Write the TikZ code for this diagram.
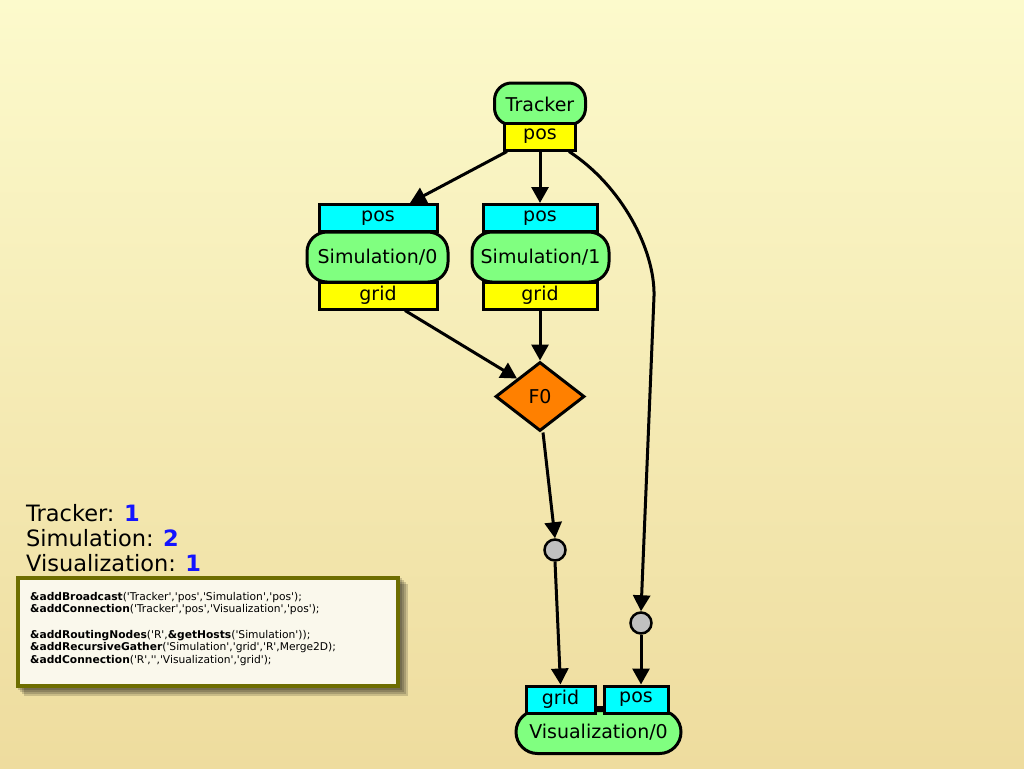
\documentclass[tikz,border=0pt]{standalone}
\usepackage{fontspec}
\setmainfont{DejaVu Sans}
\newfontfamily\codefont{DejaVu Sans}
\usetikzlibrary{arrows.meta,shapes.geometric,shadows}
\definecolor{bgtop}{RGB}{252,250,204}
\definecolor{bgbot}{RGB}{238,220,158}
\definecolor{pgreen}{RGB}{128,255,128}
\definecolor{pyellow}{RGB}{255,255,0}
\definecolor{pcyan}{RGB}{0,255,255}
\definecolor{porange}{RGB}{255,128,0}
\definecolor{pgrey}{RGB}{192,192,192}
\definecolor{olive}{RGB}{110,110,0}
\definecolor{codebg}{RGB}{250,248,236}
\definecolor{numblue}{RGB}{20,20,255}
\tikzset{
  lbl/.style={font=\fontsize{19}{22}\selectfont},
  proc/.style={draw=black,line width=3pt,fill=pgreen,lbl,inner sep=0pt},
  port/.style={draw=black,line width=3pt,lbl,inner sep=0pt,minimum height=27pt},
  inport/.style={port,fill=pcyan},
  outport/.style={port,fill=pyellow},
  rnode/.style={circle,draw=black,line width=2.5pt,fill=pgrey,minimum size=21pt,inner sep=0pt},
  conn/.style={line width=3pt,-{Triangle[length=16pt,width=17pt]}},
  legend/.style={anchor=west,font=\fontsize{22.5}{24}\selectfont,inner sep=0pt},
  shadowlayer/.style={fill=black,fill opacity=0.16},
}
\begin{document}
\begin{tikzpicture}[x=1pt,y=-1pt]
\useasboundingbox (0,0) rectangle (1024,768);
\shade[top color=bgtop,bottom color=bgbot] (0,0) rectangle (1024,768);

% Tracker
\node[proc,rounded corners=17pt,minimum width=91pt,minimum height=42pt] (tracker) at (540,104) {Tracker};
\node[outport,minimum width=71pt] (tpos) at (540,136.5) {pos};

% Simulation/0
\node[proc,rounded corners=20pt,minimum width=141pt,minimum height=50pt] (sim0) at (377.5,257) {Simulation/0};
\node[inport,minimum width=118pt] (s0pos) at (378,218) {pos};
\node[outport,minimum width=118pt] (s0grid) at (378,295.5) {grid};

% Simulation/1
\node[proc,rounded corners=20pt,minimum width=137pt,minimum height=50pt] (sim1) at (540.5,257) {Simulation/1};
\node[inport,minimum width=114pt] (s1pos) at (540,218) {pos};
\node[outport,minimum width=114pt] (s1grid) at (540,295.5) {grid};

% F0
\node[diamond,draw=black,line width=3pt,fill=porange,lbl,inner sep=0pt,minimum width=89pt,minimum height=69pt] (f0) at (540,396.5) {F0};

% routing nodes
\node[rnode] (rn1) at (555,550) {};
\node[rnode] (rn2) at (641,623) {};

% Visualization/0
\node[proc,rounded corners=21.5pt,minimum width=165pt,minimum height=43pt] (vis) at (598.5,732) {Visualization/0};
\node[inport,minimum width=69pt] (visgrid) at (560.5,699.5) {grid};
\node[inport,minimum width=64pt] (vispos) at (636,699.5) {pos};
\draw[line width=3pt] ([yshift=-8pt]visgrid.east) -- ([yshift=-8pt]vispos.west);

% connectors
\draw[conn] ([xshift=-33pt]tpos.south) -- ([xshift=32pt]s0pos.north);
\draw[conn] (tpos.south) -- (s1pos.north);
\draw[conn] ([xshift=29pt]tpos.south) .. controls (622,186) and (655,250) .. (654,296) -- (rn2.north);
\draw[conn] ([xshift=27pt]s0grid.south) -- (f0.north west);
\draw[conn] (s1grid.south) -- (f0.north);
\draw[conn] ([xshift=3pt]f0.south) -- (rn1.north);
\draw[conn] (rn1.south) -- (visgrid.north);
\draw[conn] (rn2.south) -- (rn2 |- vispos.north);

% legend
\node[legend] (lt) at (26,513) {Tracker: \textcolor{numblue}{\textbf{1}}};
\node[legend] (ls) at (26,538) {Simulation: \textcolor{numblue}{\textbf{2}}};
\node[legend] (lv) at (26,563) {Visualization: \textcolor{numblue}{\textbf{1}}};

% code box with soft shadow
\foreach \d in {2,4,6,8}{\fill[shadowlayer] (16+\d,576+\d) rectangle (400+\d,688+\d);}
\draw[line width=4pt,draw=olive,fill=codebg] (18,578) rectangle (398,686);
\node[anchor=north west,inner sep=0pt,align=left,font=\codefont\fontsize{10.7}{12.6}\selectfont] (code) at (30,592) {%
\textbf{\&addBroadcast}('Tracker','pos','Simulation','pos');\\
\textbf{\&addConnection}('Tracker','pos','Visualization','pos');\\[12.6pt]
\textbf{\&addRoutingNodes}('R',\textbf{\&getHosts}('Simulation'));\\
\textbf{\&addRecursiveGather}('Simulation','grid','R',Merge2D);\\
\textbf{\&addConnection}('R','','Visualization','grid');};
\end{tikzpicture}
\end{document}
